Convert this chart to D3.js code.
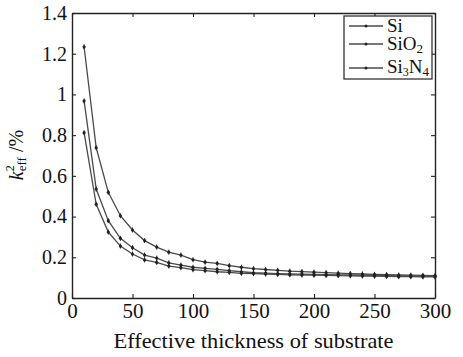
<!DOCTYPE html>
<html><head><meta charset="utf-8">
<script src="https://cdn.jsdelivr.net/npm/d3@7"></script>
<style>body{margin:0;background:#fff}svg{display:block}</style>
</head><body>
<script>
const thickness = [10,20,30,40,50,60,70,80,90,100,110,120,130,140,150,160,170,180,190,200,210,220,230,240,250,260,270,280,290,300];
const seriesNames = ["Si","SiO₂","Si₃N₄"];
const siValues =   [1.234,0.738,0.519,0.404,0.334,0.282,0.250,0.225,0.211,0.188,0.176,0.170,0.159,0.151,0.144,0.140,0.136,0.132,0.130,0.127,0.125,0.122,0.120,0.118,0.116,0.115,0.113,0.112,0.111,0.110];
const sio2Values = [0.968,0.535,0.380,0.293,0.247,0.211,0.196,0.173,0.162,0.151,0.146,0.141,0.134,0.129,0.124,0.122,0.120,0.118,0.117,0.116,0.115,0.114,0.113,0.112,0.111,0.110,0.109,0.108,0.107,0.106];
const si3n4Values =[0.812,0.460,0.324,0.255,0.216,0.187,0.175,0.157,0.149,0.139,0.134,0.129,0.126,0.121,0.120,0.118,0.116,0.114,0.113,0.112,0.111,0.110,0.109,0.108,0.107,0.106,0.105,0.105,0.104,0.104];
const xTicks = [0,50,100,150,200,250,300];
const yTicks = [0,0.2,0.4,0.6,0.8,1,1.2,1.4];

const W=463,H=357;
const m={l:72,r:28,t:13,b:59};
const svg=d3.select("body").append("svg").attr("width",W).attr("height",H);
const x=d3.scaleLinear().domain([0,300]).range([m.l,W-m.r]);
const y=d3.scaleLinear().domain([0,1.4]).range([H-m.b,m.t]);
const font="Liberation Serif, Times New Roman, DejaVu Serif, serif";
const col="#222";

const g=svg.append("g");
const ax=(fs)=>(sel)=>{sel.attr("font-family",font);sel.selectAll("path").attr("stroke",col).attr("stroke-width",1.4);sel.selectAll("line").attr("stroke",col).attr("stroke-width",1.1);sel.selectAll("text").attr("font-family",font).attr("font-size",fs).attr("fill","#111");};
g.append("g").attr("transform",`translate(0,${y(0)})`).call(d3.axisBottom(x).tickValues(xTicks).tickFormat(d3.format("d")).tickSizeInner(-4).tickSizeOuter(0).tickPadding(5)).call(ax(21));
g.append("g").attr("transform",`translate(${x(0)},0)`).call(d3.axisLeft(y).tickValues(yTicks).tickFormat(d=>d3.format("")(+d.toFixed(1))).tickSizeInner(-4).tickSizeOuter(0).tickPadding(5)).call(ax(20));
g.append("g").attr("transform",`translate(0,${y(1.4)})`).call(d3.axisTop(x).tickValues(xTicks).tickFormat("").tickSizeInner(-4).tickSizeOuter(0)).call(ax(20));
g.append("g").attr("transform",`translate(${x(300)},0)`).call(d3.axisRight(y).tickValues(yTicks).tickFormat("").tickSizeInner(-4).tickSizeOuter(0)).call(ax(20));

const series=[siValues,sio2Values,si3n4Values];
const line=d3.line().x((d,i)=>x(thickness[i])).y(d=>y(d));
series.forEach(vals=>{
  g.append("path").datum(vals).attr("d",line).attr("fill","none").attr("stroke","#4a4a4a").attr("stroke-width",1.3);
  g.selectAll(null).data(vals).enter().append("circle").attr("cx",(d,i)=>x(thickness[i])).attr("cy",d=>y(d)).attr("r",1.6).attr("fill","#222");
  g.selectAll(null).data(vals).enter().append("line").attr("x1",(d,i)=>x(thickness[i])).attr("x2",(d,i)=>x(thickness[i])).attr("y1",d=>y(d)-2.5).attr("y2",d=>y(d)+2.5).attr("stroke","#222").attr("stroke-width",1);
});

// axis title
svg.append("text").attr("x",(x(0)+x(300))/2).attr("y",348).attr("text-anchor","middle").attr("font-family",font).attr("font-size",21).attr("textLength",280).attr("lengthAdjust","spacingAndGlyphs").attr("fill","#111").text("Effective thickness of substrate");
// y label
const yl=svg.append("text").attr("transform","translate(23,155) rotate(-90)").attr("text-anchor","middle").attr("font-family",font).attr("font-size",20).attr("fill","#111");
yl.append("tspan").attr("font-style","italic").text("k");
yl.append("tspan").attr("font-size",12).attr("dy",-9).attr("dx",0).text("2");
yl.append("tspan").attr("font-size",13).attr("dy",12).attr("dx",-6).text("eff");
yl.append("tspan").attr("dy",-3).text(" /%");

// legend
const lg=svg.append("g");
lg.append("rect").attr("x",344).attr("y",16).attr("width",88).attr("height",63).attr("fill","#fff").attr("stroke",col).attr("stroke-width",1.2);
const ly=[26,44,68];
seriesNames.forEach((n,i)=>{
  lg.append("line").attr("x1",349).attr("x2",383).attr("y1",ly[i]).attr("y2",ly[i]).attr("stroke","#4a4a4a").attr("stroke-width",1.3);
  lg.append("circle").attr("cx",366).attr("cy",ly[i]).attr("r",1.5).attr("fill","#222");
});
const lfs=19;
lg.append("text").attr("x",387).attr("y",ly[0]+6).attr("font-family",font).attr("font-size",lfs).attr("fill","#111").text("Si");
const t2=lg.append("text").attr("x",387).attr("y",ly[1]+6).attr("font-family",font).attr("font-size",lfs).attr("fill","#111");
t2.append("tspan").text("SiO");t2.append("tspan").attr("font-size",13).attr("dy",3).text("2");
const t3=lg.append("text").attr("x",387).attr("y",ly[2]+5).attr("font-family",font).attr("font-size",lfs).attr("fill","#111");
t3.append("tspan").text("Si");t3.append("tspan").attr("font-size",12).attr("dy",3).text("3");
t3.append("tspan").attr("dy",-3).text("N");t3.append("tspan").attr("font-size",13).attr("dy",3).text("4");
</script>
</body></html>
